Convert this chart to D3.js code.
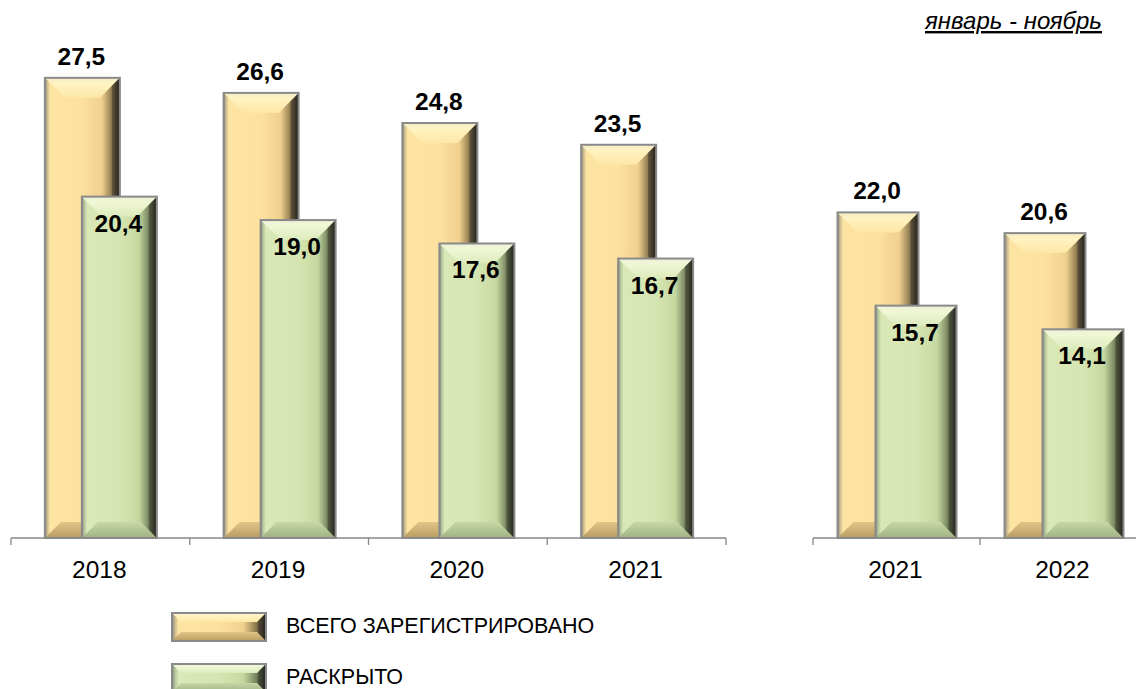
<!DOCTYPE html>
<html>
<head>
<meta charset="utf-8">
<script src="https://cdn.jsdelivr.net/npm/d3@7"></script>
<style>
  html, body { margin: 0; padding: 0; background: #ffffff; }
  svg { display: block; }
  text { font-family: "Liberation Sans", Arial, sans-serif; }
</style>
</head>
<body>
<svg id="chart" width="1136" height="689"></svg>
<script>
// ---- data ----
const periodsA = ["2018", "2019", "2020", "2021"];
const totalA   = [27.5, 26.6, 24.8, 23.5];
const solvedA  = [20.4, 19.0, 17.6, 16.7];

const periodsB = ["2021", "2022"];
const totalB   = [22.0, 20.6];
const solvedB  = [15.7, 14.1];

const seriesNames = ["ВСЕГО ЗАРЕГИСТРИРОВАНО", "РАСКРЫТО"];
const periodNote = "январь - ноябрь";

// ---- layout ----
const W = 1136, H = 689;
const baseY = 538;
const svg = d3.select("#chart");
const defs = svg.append("defs");

const palettes = {
  orange: {
    face: [["0%", "#85817a"], ["3%", "#c8b88e"], ["7%", "#fde4a2"], ["50%", "#fde19e"], ["76%", "#f0d08e"], ["87%", "#a08a5a"], ["100%", "#25221d"]],
    top:  [["0%", "#f4ecc8"], ["30%", "#fff3c0"], ["100%", "#fde7a6"]],
    bottom: [["0%", "#e2c688"], ["100%", "#b99b62"]]
  },
  green: {
    face: [["0%", "#7e8478"], ["3%", "#b4c29c"], ["7%", "#d9e8b6"], ["50%", "#d6e6b2"], ["76%", "#c6d8a0"], ["87%", "#86946a"], ["100%", "#22281d"]],
    top:  [["0%", "#eef2d8"], ["30%", "#f0f7d4"], ["100%", "#dceabc"]],
    bottom: [["0%", "#c7d8a6"], ["100%", "#a0b282"]]
  }
};

function grad(id, stops, vertical) {
  const g = defs.append("linearGradient").attr("id", id)
    .attr("x1", 0).attr("y1", 0)
    .attr("x2", vertical ? 0 : 1).attr("y2", vertical ? 1 : 0);
  stops.forEach(s => g.append("stop").attr("offset", s[0]).attr("stop-color", s[1]));
}
Object.entries(palettes).forEach(([k, p]) => {
  grad(k + "-face", p.face, false);
  grad(k + "-top", p.top, true);
  grad(k + "-bottom", p.bottom, true);
});

function bevelBar(g, x, y, w, h, pal, bTop, bBot) {
  const grp = g.append("g");
  grp.append("rect").attr("x", x).attr("y", y).attr("width", w).attr("height", h)
    .attr("fill", `url(#${pal}-face)`);
  const bt = Math.min(bTop, h / 2), bb = Math.min(bBot, h / 2);
  grp.append("polygon")
    .attr("points", [[x, y], [x + w, y], [x + w - bt, y + bt], [x + bt, y + bt]].map(p => p.join(",")).join(" "))
    .attr("fill", `url(#${pal}-top)`);
  grp.append("polygon")
    .attr("points", [[x, y + h], [x + w, y + h], [x + w - bb, y + h - bb], [x + bb, y + h - bb]].map(p => p.join(",")).join(" "))
    .attr("fill", `url(#${pal}-bottom)`);
  // dark right edge strip
  const s = Math.min(bb, 8);
  grp.append("polygon")
    .attr("points", [[x + w, y], [x + w, y + h], [x + w - s, y + h - s], [x + w - s, y + s]].map(p => p.join(",")).join(" "))
    .attr("fill", "#1f1d1a").attr("opacity", 0.35);
  grp.append("rect").attr("x", x).attr("y", y).attr("width", w).attr("height", h)
    .attr("fill", "none").attr("stroke", "#8a8a8a").attr("stroke-width", 2);
  return grp;
}

const fmt = v => d3.format(".1f")(v).replace(".", ",");

function panel(periods, total, solved, xRange, yTop, barW, offs) {
  const x = d3.scaleBand().domain(periods).range(xRange).padding(0);
  const y = d3.scaleLinear().domain([0, 30]).range([baseY, yTop]);
  const g = svg.append("g");

  // axis line & boundary ticks
  g.append("line").attr("x1", xRange[0]).attr("x2", xRange[1])
    .attr("y1", baseY).attr("y2", baseY).attr("stroke", "#878787").attr("stroke-width", 1.3);
  const bounds = periods.map(p => x(p)).concat([x(periods[periods.length - 1]) + x.bandwidth()]);
  g.selectAll(".tick").data(bounds).enter().append("line")
    .attr("x1", d => d).attr("x2", d => d).attr("y1", baseY).attr("y2", baseY + 7)
    .attr("stroke", "#878787").attr("stroke-width", 1.3);

  periods.forEach((p, i) => {
    const c = x(p) + x.bandwidth() / 2;
    const xo = c + offs[0], xg = c + offs[1];
    bevelBar(g, xo, y(total[i]), barW, baseY - y(total[i]), "orange", 20, 16);
    bevelBar(g, xg, y(solved[i]), barW, baseY - y(solved[i]), "green", 20, 16);
    g.append("text").attr("x", xo + barW / 2 - 1).attr("y", y(total[i]) - 13)
      .attr("text-anchor", "middle").attr("font-size", 24.5).attr("font-weight", "bold")
      .attr("fill", "#000").text(fmt(total[i]));
    g.append("text").attr("x", xg + barW / 2 - 1).attr("y", y(solved[i]) + 35)
      .attr("text-anchor", "middle").attr("font-size", 24.5).attr("font-weight", "bold")
      .attr("fill", "#000").text(fmt(solved[i]));
    g.append("text").attr("x", c - 1).attr("y", 578)
      .attr("text-anchor", "middle").attr("font-size", 24.5).attr("fill", "#000").text(p);
  });
}

panel(periodsA, totalA, solvedA, [11, 726], 36, 75, [-55.5, -18.5]);
panel(periodsB, totalB, solvedB, [813, 1147], 94, 81, [-59, -21]);

// period note
svg.append("text").attr("x", 1102).attr("y", 29).attr("text-anchor", "end")
  .attr("font-size", 24).attr("font-style", "italic").attr("text-decoration", "underline")
  .attr("fill", "#000").text(periodNote);

// legend
const legend = svg.append("g");
["orange", "green"].forEach((pal, i) => {
  const ly = 613 + i * 51;
  bevelBar(legend, 172, ly, 94, 28, pal, 9, 9);
  legend.append("text").attr("x", 286).attr("y", ly + 20)
    .attr("font-size", 21.5).attr("fill", "#000").text(seriesNames[i]);
});
</script>
</body>
</html>
